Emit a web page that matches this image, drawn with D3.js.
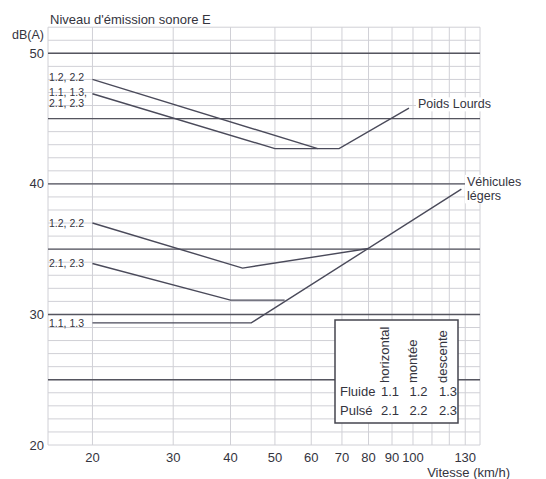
<!DOCTYPE html>
<html lang="fr">
<head>
  <meta charset="UTF-8">
  <title>Niveau d'émission sonore</title>
  <style>
    body { margin: 0; background: #fff; }
    svg text { font-family: "Liberation Sans", Arial, sans-serif; fill: #34343e; }
  </style>
</head>
<body>
  <svg id="svg" width="546" height="479"></svg>

  <script src="https://d3js.org/d3.v7.min.js"></script>
  <script>
    // axis values
    const xTicks = [20, 30, 40, 50, 60, 70, 80, 90, 100, 130]
    const xGrid = [16, 20, 30, 40, 50, 60, 70, 80, 90, 100, 110, 120, 130, 140]
    const yLabels = [20, 30, 40, 50]
    const yMajor = [25, 30, 35, 40, 45, 50]

    // Poids Lourds
    const plUpper = [[20, 48], [62, 42.7]]                         // 1.2, 2.2
    const plLower = [[20, 46.9], [50, 42.7], [69, 42.7], [98, 45.8]] // 1.1, 1.3, 2.1, 2.3
    // Véhicules légers
    const vlMontee = [[20, 37], [42.5, 33.55], [80, 35.05]]          // 1.2, 2.2
    const vlPulse = [[20, 33.9], [40, 31.1], [52.5, 31.1]]          // 2.1, 2.3
    const vlFluide = [[20, 29.35], [44.4, 29.35], [127.5, 39.6]]    // 1.1, 1.3

    // legend table
    const legendCols = ['horizontal', 'montée', 'descente']
    const legendRows = [['Fluide', '1.1', '1.2', '1.3'], ['Pulsé', '2.1', '2.2', '2.3']]

    const svg = d3.select('#svg')

    const x = d3.scaleLog().domain([16, 140]).range([48, 480])
    const y = d3.scaleLinear().domain([20, 52]).range([445, 27.2])

    // thin grid
    svg.append('g')
      .selectAll('line')
      .data(d3.range(20, 53))
      .enter()
      .append('line')
      .attr('x1', x(16)).attr('x2', x(140))
      .attr('y1', d => y(d)).attr('y2', d => y(d))
      .attr('stroke', '#d0d0d6').attr('stroke-width', 1)

    svg.append('g')
      .selectAll('line')
      .data(xGrid)
      .enter()
      .append('line')
      .attr('x1', d => x(d)).attr('x2', d => x(d))
      .attr('y1', y(52)).attr('y2', y(20))
      .attr('stroke', '#d0d0d6').attr('stroke-width', 1)

    // 5 dB lines
    svg.append('g')
      .selectAll('line')
      .data(yMajor)
      .enter()
      .append('line')
      .attr('x1', x(16)).attr('x2', x(140))
      .attr('y1', d => y(d)).attr('y2', d => y(d))
      .attr('stroke', '#55555f').attr('stroke-width', 1.4)

    // y labels
    svg.append('g')
      .selectAll('text')
      .data(yLabels)
      .enter()
      .append('text')
      .attr('x', 44)
      .attr('y', d => y(d))
      .attr('dy', '0.35em')
      .attr('text-anchor', 'end')
      .attr('font-size', 13)
      .text(d => d)

    svg.append('text').attr('x', 44).attr('y', 35).attr('dy', '0.35em')
      .attr('text-anchor', 'end').attr('font-size', 12.5).text('dB(A)')
    svg.append('text').attr('x', 50).attr('y', 19).attr('dy', '0.35em')
      .attr('font-size', 13).text("Niveau d'émission sonore E")

    // x labels
    svg.append('g')
      .selectAll('text')
      .data(xTicks)
      .enter()
      .append('text')
      .attr('x', d => x(d))
      .attr('y', 457)
      .attr('dy', '0.35em')
      .attr('text-anchor', 'middle')
      .attr('font-size', 13)
      .text(d => d)

    svg.append('text').attr('x', 510).attr('y', 472).attr('dy', '0.35em')
      .attr('text-anchor', 'end').attr('font-size', 13).text('Vitesse (km/h)')

    // curves
    const line = d3.line().x(d => x(d[0])).y(d => y(d[1]))
    svg.append('g')
      .selectAll('path')
      .data([plUpper, plLower, vlMontee, vlPulse, vlFluide])
      .enter()
      .append('path')
      .attr('d', line)
      .attr('fill', 'none')
      .attr('stroke', '#4a4a5a')
      .attr('stroke-width', 1.4)

    // curve labels
    const small = [
      ['1.2, 2.2', plUpper[0][1], -2],
      ['1.1, 1.3,', plLower[0][1], -1],
      ['2.1, 2.3', plLower[0][1], 10],
      ['1.2, 2.2', vlMontee[0][1], 0],
      ['2.1, 2.3', vlPulse[0][1], 0],
      ['1.1, 1.3', vlFluide[0][1], 0]
    ]
    svg.append('g')
      .selectAll('text')
      .data(small)
      .enter()
      .append('text')
      .attr('x', 49)
      .attr('y', d => y(d[1]) + d[2])
      .attr('dy', '0.35em')
      .attr('font-size', 10.5)
      .text(d => d[0])

    // labels on a white patch, one text per line
    function tag(lines, tx, ty, gap) {
      const g = svg.append('g')
      const ts = lines.map((s, i) => g.append('text')
        .attr('x', tx).attr('y', ty + i * gap).attr('dy', '0.35em')
        .attr('font-size', 12.5).text(s))
      const boxes = ts.map(t => t.node().getBBox())
      const x0 = d3.min(boxes, b => b.x), y0 = d3.min(boxes, b => b.y)
      const x1 = d3.max(boxes, b => b.x + b.width), y1 = d3.max(boxes, b => b.y + b.height)
      g.insert('rect', 'text')
        .attr('x', x0 - 2).attr('y', y0).attr('width', x1 - x0 + 4).attr('height', y1 - y0)
        .attr('fill', '#fff')
    }
    tag(['Poids Lourds'], 418, 104, 0)
    tag(['Véhicules', 'légers'], 467, 181.5, 14.5)

    // legend box
    const lg = svg.append('g')
    lg.append('rect')
      .attr('x', 335).attr('y', 320).attr('width', 123).attr('height', 103)
      .attr('fill', '#fff').attr('stroke', '#45454f').attr('stroke-width', 1.5)
    const colX = [390, 418.5, 448]
    lg.selectAll('.col')
      .data(legendCols)
      .enter()
      .append('text')
      .attr('class', 'col')
      .attr('transform', (d, i) => `translate(${colX[i] - 1.5},383) rotate(-90)`)
      .attr('font-size', 13)
      .text(d => d)
    legendRows.forEach((row, r) => {
      lg.append('text').attr('x', 340).attr('y', 391 + r * 19).attr('dy', '0.35em')
        .attr('font-size', 13).text(row[0])
      row.slice(1).forEach((v, i) => {
        lg.append('text').attr('x', colX[i]).attr('y', 391 + r * 19).attr('dy', '0.35em')
          .attr('text-anchor', 'middle').attr('font-size', 13).text(v)
      })
    })
  </script>
</body>
</html>
